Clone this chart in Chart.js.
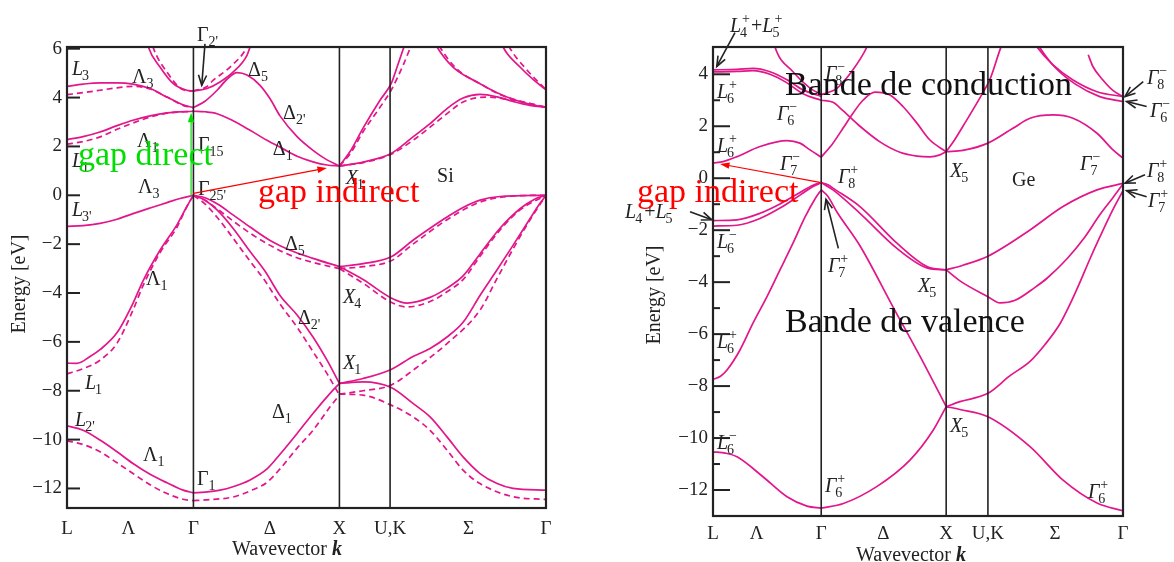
<!DOCTYPE html>
<html>
<head>
<meta charset="utf-8">
<script src="https://cdn.jsdelivr.net/npm/chart.js@4.4.0/dist/chart.umd.min.js"></script>
<style>
  html, body { margin: 0; padding: 0; background: #fff; }
  #wrap { position: relative; width: 1174px; height: 562px; }
  #wrap canvas { position: absolute; left: 0; top: 0; }
</style>
</head>
<body>
<div id="wrap">
  <canvas id="siChart" width="1174" height="562"></canvas>
  <canvas id="geChart" width="1174" height="562"></canvas>
</div>
<script>
// Band structures of Si (left) and Ge (right), energies in eV along L-Γ-X-U,K-Γ

// --- path positions (wavevector, units of 2π/a) ---
const kL = 0, kG = 0.866, kX = 1.866, kUK = 2.213, kG2 = 3.281;
const siTickVals = [0, 0.42, 0.866, 1.39, 1.866, 2.213, 2.75, 3.281];
const geTickVals = [0, 0.35, 0.866, 1.363, 1.866, 2.2, 2.737, 3.281];
const xTickText = ['L', 'Λ', 'Γ', 'Δ', 'X', 'U,K', 'Σ', 'Γ'];
const siYTicks = [-12, -10, -8, -6, -4, -2, 0, 2, 4, 6];
const geYTicks = [-12, -10, -8, -6, -4, -2, 0, 2, 4];
const geYMinor = [-11, -9, -7, -5, -3, -1, 1, 3];

// --- Si, solid curves [k, E] ---
const siLG1 = [[0,-9.44],[0.11,-9.62],[0.226,-10.02],[0.343,-10.5],[0.452,-10.98],[0.569,-11.42],[0.685,-11.77],[0.795,-12.07],[0.866,-12.18]];
const siLG2 = [[0,-6.87],[0.068,-6.88],[0.158,-6.6],[0.226,-6.32],[0.343,-5.62],[0.452,-4.42],[0.521,-3.5],[0.637,-2.25],[0.754,-1.2],[0.822,-0.45],[0.866,0]];
const siLG3 = [[0,-1.27],[0.11,-1.24],[0.226,-1.15],[0.343,-0.98],[0.452,-0.75],[0.569,-0.52],[0.685,-0.3],[0.774,-0.13],[0.866,0]];
const siLG4 = [[0,2.28],[0.11,2.4],[0.226,2.59],[0.343,2.85],[0.452,3.07],[0.569,3.25],[0.685,3.37],[0.866,3.44]];
const siLG5 = [[0,4.46],[0.11,4.55],[0.226,4.6],[0.343,4.6],[0.452,4.55],[0.569,4.37],[0.685,4.02],[0.795,3.7],[0.866,3.59]];
const siLG6 = [[0.54,6.5],[0.557,6.07],[0.637,5.25],[0.728,4.57],[0.82,4.3],[0.866,4.27]];
const siGX1 = [[0.866,-12.18],[0.945,-12.15],[1.048,-12.07],[1.137,-11.93],[1.254,-11.65],[1.37,-11.2],[1.459,-10.6],[1.576,-9.75],[1.685,-8.93],[1.802,-8.11],[1.866,-7.7]];
const siGX2 = [[0.866,0],[0.945,-0.2],[1.028,-0.6],[1.137,-1.35],[1.254,-2.3],[1.356,-3.1],[1.459,-4.1],[1.576,-4.9],[1.685,-5.8],[1.781,-6.75],[1.866,-7.7]];
const siGX3 = [[0.866,0],[0.945,-0.1],[1.028,-0.35],[1.137,-0.8],[1.254,-1.3],[1.391,-1.85],[1.528,-2.25],[1.685,-2.58],[1.866,-2.92]];
const siGX4 = [[0.866,3.44],[0.945,3.42],[1.028,3.34],[1.137,3.05],[1.254,2.66],[1.37,2.25],[1.48,1.9],[1.576,1.6],[1.685,1.37],[1.781,1.24],[1.866,1.2]];
const siGX5 = [[0.866,3.59],[0.945,3.85],[1.028,4.3],[1.096,4.75],[1.165,5.02],[1.233,4.92],[1.322,4.5],[1.391,3.95],[1.459,3.25],[1.576,2.4],[1.685,1.84],[1.781,1.45],[1.866,1.2]];
const siGX6 = [[0.866,4.27],[0.959,4.37],[1.048,4.64],[1.137,5.04],[1.233,5.73],[1.254,6.07],[1.28,6.5]];
const siXG1 = [[1.866,-7.7],[2.028,-7.64],[2.22,-7.87],[2.37,-8.52],[2.487,-9.07],[2.603,-9.89],[2.713,-10.71],[2.829,-11.39],[2.946,-11.8],[3.055,-12.0],[3.281,-12.07]];
const siXG2 = [[1.866,-7.7],[2.028,-7.5],[2.22,-7.13],[2.37,-6.6],[2.487,-6.27],[2.603,-5.8],[2.713,-5.2],[2.829,-4.1],[2.946,-3.05],[3.055,-2.05],[3.172,-0.95],[3.24,-0.33],[3.281,0]];
const siXG3 = [[1.866,-2.92],[2.028,-3.45],[2.22,-4.2],[2.329,-4.41],[2.487,-4.18],[2.603,-3.8],[2.713,-3.3],[2.829,-2.4],[2.966,-1.35],[3.103,-0.55],[3.206,-0.15],[3.281,0]];
const siXG4 = [[1.866,-2.92],[2.028,-2.8],[2.22,-2.52],[2.37,-1.84],[2.487,-1.35],[2.603,-0.89],[2.713,-0.5],[2.829,-0.2],[2.966,-0.05],[3.281,0]];
const siXG5 = [[1.866,1.2],[1.94,1.8],[2.028,2.75],[2.144,3.89],[2.22,4.57],[2.261,5.25],[2.308,6.07],[2.34,6.6]];
const siXG6 = [[1.866,1.2],[2.028,1.36],[2.22,1.71],[2.37,2.39],[2.487,2.93],[2.603,3.55],[2.713,3.98],[2.829,4.13],[2.946,4.03],[3.055,3.84],[3.172,3.68],[3.281,3.6]];
const siXG7 = [[2.5,6.5],[2.535,6.07],[2.644,5.25],[2.829,4.57],[2.946,4.2],[3.055,3.93],[3.172,3.72],[3.281,3.6]];
const siXG8 = [[2.96,6.5],[2.987,6.07],[3.103,5.25],[3.2,4.7],[3.281,4.32]];

// --- Si, dashed curves ---
const sdLG1 = [[0,-10.05],[0.11,-10.2],[0.226,-10.5],[0.343,-10.95],[0.452,-11.39],[0.569,-11.85],[0.685,-12.21],[0.795,-12.44],[0.866,-12.5]];
const sdLG2 = [[0,-7.31],[0.11,-7.1],[0.226,-6.75],[0.343,-6.05],[0.452,-4.7],[0.521,-3.7],[0.637,-2.35],[0.754,-1.3],[0.822,-0.45],[0.866,0]];
const sdLG4 = [[0,2.09],[0.11,2.2],[0.226,2.39],[0.343,2.7],[0.452,2.96],[0.569,3.2],[0.685,3.36],[0.866,3.44]];
const sdLG5 = [[0,4.12],[0.11,4.2],[0.226,4.3],[0.343,4.4],[0.452,4.46],[0.569,4.35],[0.685,4.02],[0.795,3.68],[0.866,3.59]];
const sdLG6 = [[0.57,6.5],[0.589,6.07],[0.685,5.04],[0.795,4.32],[0.866,4.27]];
const sdGX1 = [[0.866,-12.5],[0.945,-12.47],[1.137,-12.35],[1.254,-12.1],[1.37,-11.75],[1.459,-11.2],[1.576,-10.35],[1.685,-9.62],[1.802,-8.66],[1.866,-8.18]];
const sdGX2 = [[0.866,0],[0.945,-0.35],[1.028,-0.9],[1.137,-1.75],[1.254,-2.7],[1.356,-3.5],[1.459,-4.45],[1.576,-5.4],[1.685,-6.4],[1.781,-7.3],[1.866,-8.18]];
const sdGX3 = [[0.866,0],[0.945,-0.2],[1.028,-0.55],[1.137,-1.05],[1.254,-1.55],[1.391,-2.05],[1.528,-2.45],[1.685,-2.75],[1.866,-3.0]];
const sdGX6 = [[0.866,4.27],[0.959,4.45],[1.0,4.7],[1.117,5.25],[1.233,6.07],[1.26,6.5]];
const sdXG1 = [[1.866,-8.14],[2.028,-8.18],[2.22,-8.59],[2.37,-9.07],[2.487,-9.62],[2.603,-10.43],[2.713,-11.25],[2.829,-11.8],[3.055,-12.34],[3.281,-12.45]];
const sdXG2 = [[1.866,-8.14],[2.028,-8.0],[2.22,-7.77],[2.37,-7.16],[2.603,-6.07],[2.829,-4.7],[2.946,-3.4],[3.055,-2.2],[3.172,-1.0],[3.281,0]];
const sdXG3 = [[1.866,-3.0],[2.028,-3.6],[2.22,-4.38],[2.329,-4.57],[2.487,-4.35],[2.603,-3.95],[2.713,-3.45],[2.829,-2.5],[2.966,-1.42],[3.103,-0.6],[3.281,0]];
const sdXG4 = [[1.866,-3.0],[2.028,-2.92],[2.22,-2.68],[2.37,-2.0],[2.603,-1.0],[2.829,-0.28],[3.055,-0.03],[3.281,0]];
const sdXG5 = [[1.866,1.2],[1.94,1.7],[2.028,2.6],[2.144,3.6],[2.22,4.3],[2.308,5.4],[2.363,6.2],[2.4,6.6]];
const sdXG6 = [[1.866,1.2],[2.028,1.34],[2.22,1.68],[2.37,2.25],[2.487,2.79],[2.603,3.34],[2.713,3.82],[2.877,4.02],[3.055,3.89],[3.281,3.6]];
const sdXG7 = [[2.52,6.5],[2.555,6.07],[2.665,5.2],[2.85,4.5],[2.966,4.12],[3.281,3.6]];
const sdXG8 = [[3.0,6.5],[3.03,6.07],[3.14,5.2],[3.281,4.32]];

// --- Ge, solid curves ---
const geLG1 = [[0,-10.53],[0.1,-10.58],[0.192,-10.72],[0.4,-11.49],[0.592,-12.26],[0.752,-12.62],[0.866,-12.7]];
const geLG2 = [[0,-7.74],[0.06,-7.62],[0.112,-7.38],[0.216,-6.61],[0.32,-5.58],[0.432,-4.56],[0.536,-3.53],[0.64,-2.5],[0.736,-1.5],[0.816,-0.8],[0.866,-0.45]];
const geLG3 = [[0,-1.63],[0.192,-1.6],[0.376,-1.35],[0.536,-0.99],[0.696,-0.55],[0.8,-0.27],[0.866,-0.17]];
const geLG4 = [[0,-1.84],[0.192,-1.81],[0.376,-1.55],[0.536,-1.15],[0.696,-0.65],[0.8,-0.32],[0.866,-0.17]];
const geLG5 = [[0,0.58],[0.08,0.64],[0.192,0.83],[0.376,1.22],[0.592,1.45],[0.696,1.35],[0.776,1.09],[0.866,0.81]];
const geLG6 = [[0,4.17],[0.192,4.19],[0.32,4.23],[0.456,4.1],[0.592,3.79],[0.72,3.4],[0.866,3.15]];
const geLG7 = [[0,4.09],[0.192,4.11],[0.32,4.14],[0.456,4.0],[0.592,3.67],[0.72,3.25],[0.866,3.0]];
const geLG8 = [[0.48,5.4],[0.496,5.05],[0.64,4.1],[0.776,3.47],[0.866,3.22]];
const geGX1 = [[0.866,-12.7],[1.043,-12.52],[1.31,-11.87],[1.576,-10.85],[1.763,-9.69],[1.866,-8.79]];
const geGX2 = [[0.866,-0.45],[0.92,-0.7],[0.992,-1.3],[1.176,-2.6],[1.44,-4.95],[1.656,-6.85],[1.866,-8.79]];
const geGX3 = [[0.866,-0.17],[0.92,-0.25],[0.96,-0.38],[1.176,-1.09],[1.472,-2.5],[1.712,-3.4],[1.866,-3.53]];
const geGX4 = [[0.866,-0.17],[0.96,-0.45],[1.176,-1.35],[1.472,-2.7],[1.712,-3.45],[1.866,-3.53]];
const geGX5 = [[0.866,3.0],[0.96,2.92],[1.04,2.6],[1.176,2.0],[1.336,1.4],[1.496,1.0],[1.632,0.85],[1.736,0.82],[1.816,0.9],[1.866,1.02]];
const geGX6 = [[0.866,0.81],[0.96,1.35],[1.04,1.92],[1.12,2.5],[1.2,3.0],[1.296,3.31],[1.416,3.2],[1.52,2.76],[1.632,2.12],[1.736,1.47],[1.866,1.02]];
const geGX7 = [[0.866,3.22],[0.92,3.3],[0.99,3.45],[1.12,4.17],[1.232,5.05],[1.26,5.4]];
const geXG1 = [[1.866,-8.79],[1.976,-8.9],[2.2,-9.18],[2.537,-10.33],[2.801,-11.62],[3.073,-12.5],[3.281,-12.8]];
const geXG2 = [[1.866,-8.79],[1.976,-8.6],[2.2,-8.28],[2.377,-7.6],[2.537,-7.05],[2.657,-6.4],[2.777,-5.6],[2.857,-4.85],[2.937,-4.0],[3.017,-3.1],[3.097,-2.25],[3.201,-1.2],[3.281,-0.48]];
const geXG3 = [[1.866,-3.53],[2.0,-3.35],[2.2,-3.0],[2.537,-1.99],[2.801,-1.09],[3.073,-0.45],[3.281,-0.2]];
const geXG4 = [[1.866,-3.53],[1.976,-3.95],[2.2,-4.56],[2.297,-4.8],[2.417,-4.7],[2.577,-4.2],[2.673,-3.85],[2.833,-3.1],[2.97,-2.3],[3.097,-1.4],[3.2,-0.75],[3.281,-0.22]];
const geXG5 = [[1.866,1.02],[1.93,1.45],[2.0,2.0],[2.137,3.1],[2.22,3.85],[2.297,4.95],[2.35,5.6]];
const geXG6 = [[1.866,1.02],[2.0,1.07],[2.2,1.35],[2.4,1.92],[2.537,2.31],[2.721,2.44],[2.881,2.31],[3.073,1.73],[3.201,1.09],[3.281,0.77]];
const geXG7 = [[2.55,5.4],[2.593,5.05],[2.721,4.36],[2.881,3.78],[3.073,3.33],[3.281,3.14]];
const geXG8 = [[2.57,5.4],[2.612,5.05],[2.74,4.25],[2.9,3.62],[3.09,3.15],[3.281,2.95]];
const geXG9 = [[3.003,4.75],[3.04,4.3],[3.12,3.78],[3.2,3.38],[3.281,3.14]];

const siSolid = [siLG1, siLG2, siLG3, siLG4, siLG5, siLG6, siGX1, siGX2, siGX3, siGX4, siGX5, siGX6,
                 siXG1, siXG2, siXG3, siXG4, siXG5, siXG6, siXG7, siXG8];
const siDashed = [sdLG1, sdLG2, sdLG4, sdLG5, sdLG6, sdGX1, sdGX2, sdGX3, sdGX6,
                  sdXG1, sdXG2, sdXG3, sdXG4, sdXG5, sdXG6, sdXG7, sdXG8];
const geSolid = [geLG1, geLG2, geLG3, geLG4, geLG5, geLG6, geLG7, geLG8, geGX1, geGX2, geGX3, geGX4,
                 geGX5, geGX6, geGX7, geXG1, geXG2, geXG3, geXG4, geXG5, geXG6, geXG7, geXG8, geXG9];

// --- symmetry labels: [k, E, parts], part = [base, sub, sup, italic] ---
const siLabels = [
  [0.89, 6.3, [['Γ', "2'", '', 0]]],
  [0.034, 4.91, [['L', '3', '', 1]]],
  [0.445, 4.58, [['Λ', '3', '', 0]]],
  [1.24, 4.87, [['Δ', '5', '', 0]]],
  [1.48, 3.11, [['Δ', "2'", '', 0]]],
  [0.48, 1.96, [['Λ', '1', '', 0]]],
  [0.897, 1.8, [['Γ', '15', '', 0]]],
  [1.41, 1.64, [['Δ', '1', '', 0]]],
  [0.034, 1.15, [['L', '1', '', 1]]],
  [0.486, 0.08, [['Λ', '3', '', 0]]],
  [0.897, 0, [['Γ', "25'", '', 0]]],
  [1.91, 0.45, [['X', '1', '', 1]]],
  [0.034, -0.86, [['L', "3'", '', 1]]],
  [1.493, -2.25, [['Δ', '5', '', 0]]],
  [0.541, -3.68, [['Λ', '1', '', 0]]],
  [1.89, -4.42, [['X', '4', '', 1]]],
  [1.582, -5.28, [['Δ', "2'", '', 0]]],
  [1.89, -7.12, [['X', '1', '', 1]]],
  [0.123, -7.94, [['L', '1', '', 1]]],
  [0.055, -9.45, [['L', "2'", '', 1]]],
  [1.404, -9.12, [['Δ', '1', '', 0]]],
  [0.521, -10.88, [['Λ', '1', '', 0]]],
  [0.89, -11.87, [['Γ', '1', '', 0]]]
];
const geLabels = [
  [0.136, 5.63, [['L', '4', '+', 1], ['+', '', '', 0], ['L', '5', '+', 1]]],
  [0.032, 3.09, [['L', '6', '+', 1]]],
  [0.896, 3.79, [['Γ', '8', '−', 1]]],
  [0.512, 2.24, [['Γ', '6', '−', 1]]],
  [0.032, 0.99, [['L', '6', '+', 1]]],
  [0.536, 0.32, [['Γ', '7', '−', 1]]],
  [1.0, -0.18, [['Γ', '8', '+', 1]]],
  [-0.704, -1.53, [['L', '4', '', 1], ['+', '', '', 0], ['L', '5', '', 1]]],
  [0.032, -2.68, [['L', '6', '−', 1]]],
  [0.92, -3.61, [['Γ', '7', '+', 1]]],
  [1.897, 0.05, [['X', '5', '', 1]]],
  [2.937, 0.32, [['Γ', '7', '−', 1]]],
  [3.473, 3.63, [['Γ', '8', '−', 1]]],
  [3.497, 2.36, [['Γ', '6', '−', 1]]],
  [3.473, 0.05, [['Γ', '8', '+', 1]]],
  [3.481, -1.1, [['Γ', '7', '+', 1]]],
  [1.64, -4.38, [['X', '5', '', 1]]],
  [1.897, -9.77, [['X', '5', '', 1]]],
  [3.0, -12.31, [['Γ', '6', '+', 1]]],
  [0.032, -6.53, [['L', '6', '+', 1]]],
  [0.032, -10.42, [['L', '6', '−', 1]]],
  [0.896, -12.08, [['Γ', '6', '+', 1]]]
];

// arrows: [fromK, fromE, toK, toE, colour, filledHead]
const siArrows = [
  [0.945, 6.2, 0.923, 4.5, '#222', false],
  [0.85, 0, 0.85, 3.38, '#00dd00', true],
  [0.866, 0.08, 1.78, 1.12, '#ff0000', true]
];
const geArrows = [
  [0.176, 5.6, 0.03, 4.3, '#222', false],
  [-0.184, -1.29, -0.01, -1.6, '#222', false],
  [1.003, -2.7, 0.904, -0.81, '#222', false],
  [3.443, 3.72, 3.297, 3.14, '#222', false],
  [3.47, 2.76, 3.31, 2.95, '#222', false],
  [3.457, 0.13, 3.297, -0.19, '#222', false],
  [3.47, -0.71, 3.31, -0.48, '#222', false],
  [0.866, -0.17, 0.056, 0.55, '#ff0000', true]
];
// free texts: [k, E, text, colour, size]
const siTexts = [
  [2.535, 0.53, 'Si', '#222', 20],
  [0.075, 1.23, 'gap direct', '#00dd00', 34],
  [1.308, -0.27, 'gap indirect', '#ff0000', 34]
];
const geTexts = [
  [2.393, -0.3, 'Ge', '#222', 20],
  [0.576, 3.21, 'Bande de conduction', '#111', 34],
  [0.576, -5.91, 'Bande de valence', '#111', 34],
  [-0.608, -0.9, 'gap indirect', '#ff0000', 34]
];

const PINK = '#e2168a';
const SERIF = "'Liberation Serif', 'Times New Roman', serif";

function lineSet(points, dashed) {
  return {
    data: points.map(p => ({ x: p[0], y: p[1] })),
    borderColor: PINK,
    borderWidth: 1.7,
    borderDash: dashed ? [6, 4] : [],
    pointRadius: 0,
    cubicInterpolationMode: 'monotone',
    fill: false
  };
}

function fmtE(v) { return v < 0 ? '\u2212' + Math.abs(v) : String(v); }

function drawSym(ctx, x, y, parts) {
  ctx.textAlign = 'left';
  ctx.textBaseline = 'alphabetic';
  for (const [b, sub, sup, it] of parts) {
    ctx.font = (it ? 'italic ' : '') + '20px ' + SERIF;
    ctx.fillText(b, x, y);
    x += ctx.measureText(b).width;
    if (sub || sup) {
      ctx.font = '14px ' + SERIF;
      let w = 0;
      if (sup) { ctx.fillText(sup, x + 1, y - 9); w = ctx.measureText(sup).width + 1; }
      if (sub) { ctx.fillText(sub, x + (it ? -1 : 0), y + 5); w = Math.max(w, ctx.measureText(sub).width); }
      x += w + 1;
    }
  }
}

function drawArrow(ctx, x1, y1, x2, y2, color, filled) {
  const ang = Math.atan2(y2 - y1, x2 - x1);
  const len = filled ? 10 : 11, spread = filled ? 0.33 : 0.38;
  ctx.strokeStyle = color;
  ctx.fillStyle = color;
  ctx.lineWidth = filled ? 1.2 : 1.6;
  ctx.setLineDash([]);
  ctx.beginPath();
  ctx.moveTo(x1, y1);
  ctx.lineTo(filled ? x2 - 6 * Math.cos(ang) : x2, filled ? y2 - 6 * Math.sin(ang) : y2);
  ctx.stroke();
  const ax = x2 - len * Math.cos(ang - spread), ay = y2 - len * Math.sin(ang - spread);
  const bx = x2 - len * Math.cos(ang + spread), by = y2 - len * Math.sin(ang + spread);
  ctx.beginPath();
  ctx.moveTo(ax, ay); ctx.lineTo(x2, y2); ctx.lineTo(bx, by);
  if (filled) { ctx.closePath(); ctx.fill(); } else { ctx.stroke(); }
}

function makeDecor(spec) {
  return {
    id: 'decor_' + spec.name,
    afterDatasetsDraw(chart) {
      const { ctx, chartArea: a, scales: { x, y } } = chart;
      const px = k => x.getPixelForValue(k), py = e => y.getPixelForValue(e);
      ctx.save();
      ctx.setLineDash([]);
      ctx.strokeStyle = '#222';
      // vertical lines at Γ, X and U,K
      ctx.lineWidth = 1.6;
      for (const k of spec.vlines) {
        ctx.beginPath(); ctx.moveTo(px(k), a.top); ctx.lineTo(px(k), a.bottom); ctx.stroke();
      }
      // frame
      ctx.lineWidth = 2.2;
      ctx.strokeRect(a.left, a.top, a.right - a.left, a.bottom - a.top);
      // inward ticks on energy axis
      ctx.lineWidth = 2;
      for (const v of spec.major) {
        ctx.beginPath(); ctx.moveTo(a.left, py(v)); ctx.lineTo(a.left + spec.majorLen, py(v)); ctx.stroke();
      }
      for (const v of spec.minor) {
        ctx.beginPath(); ctx.moveTo(a.left, py(v)); ctx.lineTo(a.left + 7, py(v)); ctx.stroke();
      }
      // symmetry labels
      ctx.fillStyle = '#222';
      for (const [k, e, parts] of spec.labels) drawSym(ctx, px(k), py(e), parts);
      // arrows
      for (const [k1, e1, k2, e2, c, f] of spec.arrows) drawArrow(ctx, px(k1), py(e1), px(k2), py(e2), c, f);
      // texts
      ctx.textAlign = 'left';
      ctx.textBaseline = 'alphabetic';
      for (const [k, e, t, c, s] of spec.texts) {
        ctx.fillStyle = c;
        ctx.font = s + 'px ' + SERIF;
        ctx.fillText(t, px(k), py(e));
      }
      // axis titles
      ctx.fillStyle = '#222';
      ctx.font = '20px ' + SERIF;
      ctx.textAlign = 'center';
      ctx.textBaseline = 'middle';
      ctx.save();
      ctx.translate(spec.yTitle[0], spec.yTitle[1]);
      ctx.rotate(-Math.PI / 2);
      ctx.fillText('Energy [eV]', 0, 0);
      ctx.restore();
      ctx.textAlign = 'left';
      const w1 = ctx.measureText('Wavevector ').width;
      ctx.font = 'bold italic 20px ' + SERIF;
      const w2 = ctx.measureText('k').width;
      const x0 = spec.xTitle[0] - (w1 + w2) / 2;
      ctx.font = '20px ' + SERIF;
      ctx.fillText('Wavevector ', x0, spec.xTitle[1]);
      ctx.font = 'bold italic 20px ' + SERIF;
      ctx.fillText('k', x0 + w1, spec.xTitle[1]);
      ctx.restore();
    }
  };
}

function makeChart(id, spec) {
  const datasets = spec.solid.map(b => lineSet(b, false)).concat(spec.dashed.map(b => lineSet(b, true)));
  return new Chart(document.getElementById(id), {
    type: 'line',
    data: { datasets },
    options: {
      responsive: false,
      animation: false,
      events: [],
      layout: { padding: spec.pad },
      plugins: { legend: { display: false }, tooltip: { enabled: false } },
      scales: {
        x: {
          type: 'linear', min: kL, max: kG2,
          grid: { display: false, drawTicks: false },
          border: { display: false },
          afterBuildTicks: s => { s.ticks = spec.xTicks.map(v => ({ value: v })); },
          afterFit: s => { s.height = spec.xH; },
          ticks: {
            callback: (v, i) => xTickText[i],
            autoSkip: false, maxRotation: 0, padding: spec.xPad,
            font: { family: SERIF, size: 19 }, color: '#222'
          }
        },
        y: {
          type: 'linear', min: spec.yMin, max: spec.yMax,
          grid: { display: false, drawTicks: false },
          border: { display: false },
          afterBuildTicks: s => { s.ticks = spec.major.map(v => ({ value: v })); },
          afterFit: s => { s.width = spec.yW; },
          ticks: {
            callback: v => fmtE(v),
            padding: 5,
            font: { family: SERIF, size: 19 }, color: '#222'
          }
        }
      }
    },
    plugins: [makeDecor(spec)]
  });
}

makeChart('siChart', {
  name: 'si', solid: siSolid, dashed: siDashed,
  pad: { top: 47, right: 628, bottom: 0, left: 0 },
  yW: 67, xH: 54, xPad: 10, yMin: -12.8, yMax: 6.07,
  xTicks: siTickVals, major: siYTicks, minor: [], majorLen: 13,
  vlines: [kG, kX, kUK],
  labels: siLabels, arrows: siArrows, texts: siTexts,
  yTitle: [20, 284], xTitle: [287, 550]
});

makeChart('geChart', {
  name: 'ge', solid: geSolid, dashed: [],
  pad: { top: 47, right: 51, bottom: 0, left: 0 },
  yW: 713, xH: 46, xPad: 7, yMin: -13, yMax: 5.05,
  xTicks: geTickVals, major: geYTicks, minor: geYMinor, majorLen: 17,
  vlines: [kG, kX, 2.2],
  labels: geLabels, arrows: geArrows, texts: geTexts,
  yTitle: [655, 295], xTitle: [911, 556]
});
</script>
</body>
</html>
